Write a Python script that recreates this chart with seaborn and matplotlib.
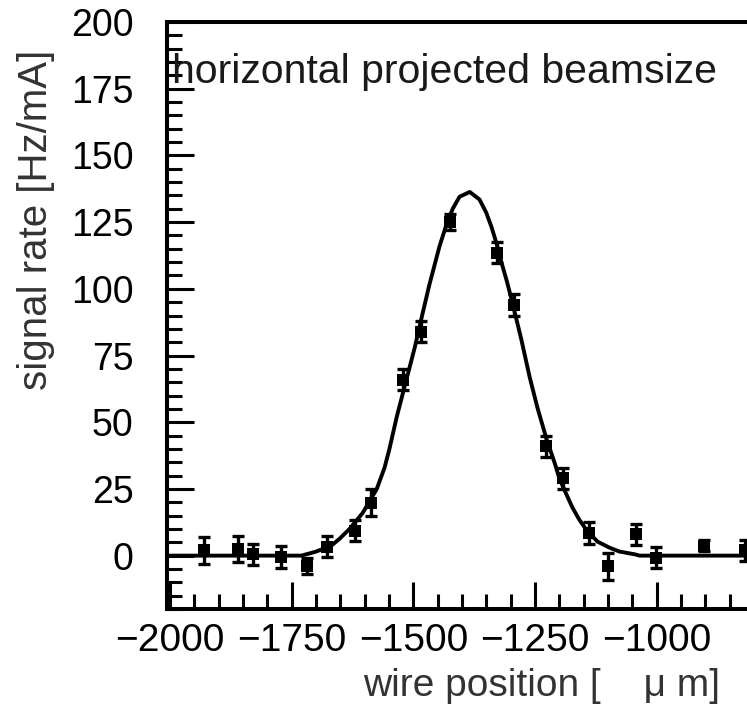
import numpy as np
import matplotlib
matplotlib.use("Agg")
import matplotlib.pyplot as plt
from matplotlib.ticker import MultipleLocator
import seaborn as sns

# measured points: wire position [um], signal rate [Hz/mA], error
pos = [-1929, -1861, -1830, -1771, -1719, -1678, -1619, -1586, -1522, -1485,
       -1425, -1327, -1294, -1228, -1193, -1138, -1099, -1043, -1002, -902, -818]
rate = [2, 2.5, 0.5, -0.5, -4, 3.4, 9.4, 19.8, 66, 84,
        125, 113.5, 94, 41, 29, 8.5, -4, 8, -0.8, 3.7, 2]
rate_err = [5, 5, 4, 4, 3, 4, 4, 5, 4, 4,
            3, 4, 4, 4, 4, 4, 5, 4, 4, 2, 4]

# fitted curve
fit_x = [-2006, -1730, -1700, -1668, -1651, -1631, -1604, -1575, -1559, -1549,
         -1534, -1497, -1487, -1467, -1446, -1432, -1419, -1405, -1384, -1364,
         -1350, -1339, -1329, -1319, -1308, -1296, -1278, -1261, -1245, -1226,
         -1210, -1200, -1186, -1173, -1159, -1142, -1121, -1097, -1076, -1045,
         -1035, -800]
fit_y = [0, 0, 1.5, 3.8, 6.4, 10, 16, 25, 33, 40,
         52, 78, 86, 101.5, 116, 124, 130, 134.5, 136.3, 133.5,
         128.5, 123, 117, 110, 103, 94.5, 81, 67, 55.5, 43.5,
         35, 29, 23.2, 18, 13.5, 9, 5.2, 3, 1.5, 0.5,
         0, 0]

sns.set_style("ticks")
plt.rcParams['font.family'] = ['Liberation Sans', 'DejaVu Sans']

fig = plt.figure(figsize=(7.47, 7.04), dpi=100)
ax = fig.add_axes([167 / 747, 95 / 704, 587 / 747, 587 / 704])

# fit line
sns.lineplot(x=fit_x, y=fit_y, ax=ax, color='black', linewidth=2.8, sort=False)
# data with error bars
ax.errorbar(pos, rate, yerr=rate_err, fmt='none', ecolor='black',
            elinewidth=2.4, capsize=4.5, capthick=2.4, zorder=3)
sns.scatterplot(x=pos, y=rate, ax=ax, marker='s', s=72, color='black',
                edgecolor='black', linewidth=0, zorder=4)

ax.set_xlim(-2006, -800)
ax.set_ylim(-20, 200)

ax.xaxis.set_major_locator(MultipleLocator(250))
ax.xaxis.set_minor_locator(MultipleLocator(50))
ax.yaxis.set_major_locator(MultipleLocator(25))
ax.yaxis.set_minor_locator(MultipleLocator(5))

ax.tick_params(which='both', direction='in', top=False, right=False,
               color='black', width=2.2, labelcolor='black')
ax.tick_params(which='major', length=19.5)
ax.tick_params(which='minor', length=11)
ax.tick_params(axis='x', which='major', labelsize=28, pad=10)
ax.tick_params(axis='y', which='major', labelsize=27, pad=24)

for sp in ax.spines.values():
    sp.set_linewidth(2.9)
    sp.set_color('black')
    sp.set_visible(True)

ax.text(0.009, 0.915, "horizontal projected beamsize", transform=ax.transAxes,
        fontsize=29.5, color='#1a1a1a', ha='left', va='center')

fig.text(36 / 747, 1 - 220 / 704, "signal rate [Hz/mA]", rotation=90,
         fontsize=29, color='#333333', ha='center', va='center')
fig.text(720 / 747, 1 - 686 / 704, "wire position [    \u03bc m]",
         fontsize=28, color='#333333', ha='right', va='center')

fig.savefig("out.png", dpi=100)
